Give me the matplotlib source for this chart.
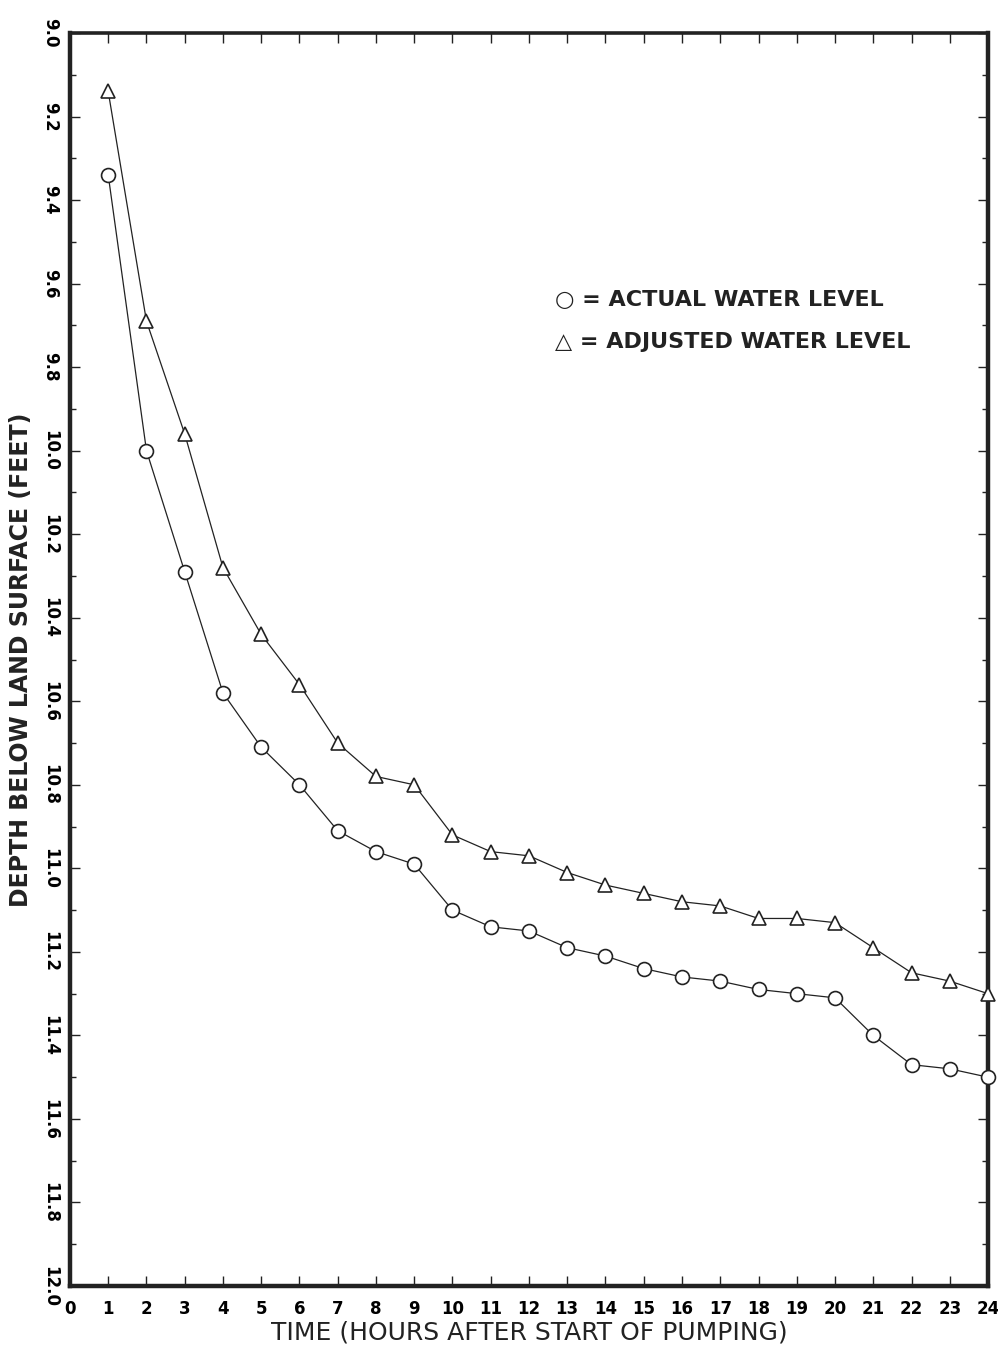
import numpy as np
import matplotlib.pyplot as plt
from matplotlib.ticker import MultipleLocator

hours = np.arange(1, 25)
actual_level = [9.34, 10.00, 10.29, 10.58, 10.71, 10.80, 10.91, 10.96, 10.99, 11.10,
                11.14, 11.15, 11.19, 11.21, 11.24, 11.26, 11.27, 11.29, 11.30, 11.31,
                11.40, 11.47, 11.48, 11.50]
adjusted_level = [9.14, 9.69, 9.96, 10.28, 10.44, 10.56, 10.70, 10.78, 10.80, 10.92,
                  10.96, 10.97, 11.01, 11.04, 11.06, 11.08, 11.09, 11.12, 11.12, 11.13,
                  11.19, 11.25, 11.27, 11.30]
x_ticks = np.arange(0, 25)
y_ticks = np.round(np.arange(9.0, 12.01, 0.2), 1)

fig = plt.figure(figsize=(9.98, 13.52), dpi=100)
ax = fig.add_axes([0.0701, 0.0488, 0.9199, 0.9268])

ax.plot(hours, adjusted_level, color='#222222', lw=0.9, marker='^', ms=10,
        mfc='white', mec='#222222', mew=1.2, clip_on=False, zorder=3)
ax.plot(hours, actual_level, color='#222222', lw=0.9, marker='o', ms=10,
        mfc='white', mec='#222222', mew=1.2, clip_on=False, zorder=3)

ax.set_xlim(0, 24)
ax.set_ylim(12.0, 9.0)
ax.set_xticks(x_ticks)
ax.set_xticklabels([str(t) for t in x_ticks], fontsize=12, fontweight='bold')
ax.set_yticks(y_ticks)
ax.set_yticklabels(['%.1f' % t for t in y_ticks], fontsize=12, fontweight='bold',
                   rotation=270, va='center')
ax.yaxis.set_minor_locator(MultipleLocator(0.1))

ax.tick_params(axis='both', which='major', direction='in', length=7, width=1,
               top=True, right=True, color='#222222')
ax.tick_params(axis='both', which='minor', direction='in', length=4, width=1,
               left=True, right=True, color='#222222')
ax.tick_params(axis='x', pad=10)
ax.tick_params(axis='y', pad=8)

for side in ['left', 'bottom', 'right']:
    ax.spines[side].set_linewidth(3.2)
    ax.spines[side].set_color('#222222')
ax.spines['top'].set_linewidth(2.6)
ax.spines['top'].set_color('#222222')

ax.set_xlabel('TIME (HOURS AFTER START OF PUMPING)', fontsize=18, labelpad=2,
              color='#222222')
ax.set_ylabel('DEPTH BELOW LAND SURFACE (FEET)', fontsize=17, fontweight='bold',
              labelpad=6, color='#222222')

ax.text(0.528, 0.787, '\u25cb = ACTUAL WATER LEVEL', transform=ax.transAxes,
        fontsize=16, fontweight='bold', va='center', ha='left', color='#222222')
ax.text(0.528, 0.753, '\u25b3 = ADJUSTED WATER LEVEL', transform=ax.transAxes,
        fontsize=16, fontweight='bold', va='center', ha='left', color='#222222')

fig.savefig('out.png', dpi=100)
